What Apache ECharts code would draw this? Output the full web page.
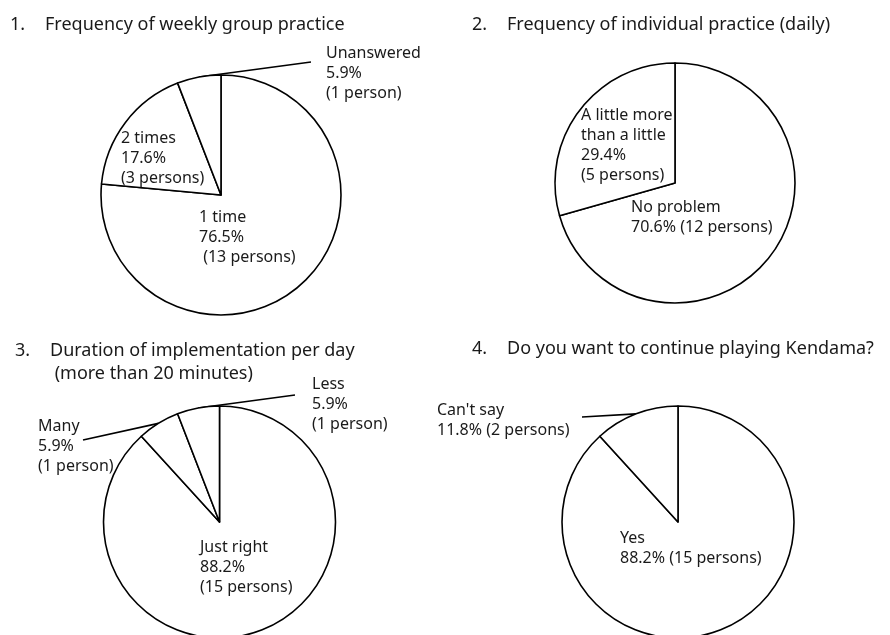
<!DOCTYPE html>
<html>
<head>
<meta charset="utf-8">
<script src="https://cdn.jsdelivr.net/npm/echarts@6/dist/echarts.min.js"></script>
<style>
  html, body { margin: 0; padding: 0; background: #fff; }
  #chart { width: 890px; height: 635px; }
</style>
</head>
<body>
<div id="chart"></div>
<script>
  // survey answers, counts of persons (17 in total)
  const q1Names = ['1 time', '2 times', 'Unanswered'];
  const q1Counts = [13, 3, 1];
  const q2Names = ['No problem', 'A little more\nthan a little'];
  const q2Counts = [12, 5];
  const q3Names = ['Just right', 'Many', 'Less'];
  const q3Counts = [15, 1, 1];
  const q4Names = ['Yes', "Can't say"];
  const q4Counts = [15, 2];

  const titles = [
    ['1.', 'Frequency of weekly group practice'],
    ['2.', 'Frequency of individual practice (daily)'],
    ['3.', 'Duration of implementation per day', ' (more than 20 minutes)'],
    ['4.', 'Do you want to continue playing Kendama?']
  ];

  const FONT = '"Noto Sans", sans-serif';
  const TEXT = '#1a1a1a';

  // label block placement (top-left), separator between % and count, leader end
  const labelPos = [
    [{ x: 199, y: 207, sep: '\n ' }, { x: 121, y: 128, sep: '\n' }, { x: 326, y: 43, sep: '\n', lx: 311, ly: 62 }],
    [{ x: 631, y: 197, sep: ' ' }, { x: 581, y: 105, sep: '\n' }],
    [{ x: 200, y: 537, sep: '\n' }, { x: 38, y: 416, sep: '\n', lx: 83, ly: 440 }, { x: 312, y: 374, sep: '\n', lx: 295, ly: 395 }],
    [{ x: 620, y: 528, sep: ' ' }, { x: 437, y: 400, sep: ' ', lx: 582, ly: 417 }]
  ];

  const pies = [
    { names: q1Names, counts: q1Counts, center: [221, 195], r: 120 },
    { names: q2Names, counts: q2Counts, center: [675, 183], r: 120 },
    { names: q3Names, counts: q3Counts, center: [219.5, 522], r: 116 },
    { names: q4Names, counts: q4Counts, center: [678, 522], r: 116 }
  ];

  const titlePos = [[10, 13], [472, 13], [15, 339], [472, 337]];

  function makeSeries(p, si) {
    return {
      type: 'pie',
      center: p.center,
      radius: p.r,
      startAngle: 90,
      clockwise: true,
      percentPrecision: 1,
      avoidLabelOverlap: false,
      silent: true,
      emphasis: { disabled: true },
      itemStyle: { color: '#fff', borderColor: '#000', borderWidth: 1.6 },
      label: {
        color: TEXT,
        fontFamily: FONT,
        fontSize: 16,
        lineHeight: 20,
        formatter: function (d) {
          const L = labelPos[si][d.dataIndex];
          const unit = d.value === 1 ? 'person' : 'persons';
          return d.name + '\n' + d.percent.toFixed(1) + '%' + L.sep + '(' + d.value + ' ' + unit + ')';
        }
      },
      labelLine: { lineStyle: { color: '#000', width: 1.6 } },
      labelLayout: function (params) {
        const L = labelPos[si][params.dataIndex];
        const out = { x: L.x, y: L.y, align: 'left', verticalAlign: 'top' };
        if (L.lx != null && params.labelLinePoints) {
          out.labelLinePoints = [params.labelLinePoints[0], [L.lx, L.ly]];
        }
        return out;
      },
      data: p.names.map(function (n, i) {
        const outside = labelPos[si][i].lx != null;
        return {
          name: n,
          value: p.counts[i],
          label: { position: outside ? 'outside' : 'inside' },
          labelLine: { show: outside, length: 10, length2: 10 }
        };
      })
    };
  }

  const chart = echarts.init(document.getElementById('chart'), null, { renderer: 'canvas' });
  chart.setOption({
    backgroundColor: '#fff',
    animation: false,
    title: titles.map(function (t, i) {
      let text = '{n|' + t[0] + '}{t|' + t[1] + '}';
      if (t[2]) text += '\n{n|}{t|' + t[2] + '}';
      const base = { fontSize: 18, fontFamily: FONT, fontWeight: 'normal', color: TEXT, lineHeight: 23 };
      return {
        left: titlePos[i][0],
        top: titlePos[i][1],
        padding: 0,
        text: text,
        textStyle: {
          fontWeight: 'normal',
          rich: {
            n: Object.assign({ width: 35 }, base),
            t: base
          }
        }
      };
    }),
    series: pies.map(makeSeries)
  });
</script>
</body>
</html>
